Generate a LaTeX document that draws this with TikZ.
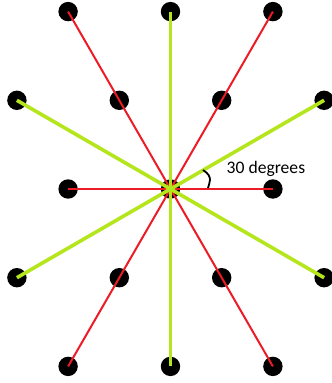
\documentclass[tikz,border=0pt]{standalone}
\usepackage{fontspec}
\setmainfont{Carlito}
\usetikzlibrary{calc}
\definecolor{pred}{HTML}{ED1C24}
\definecolor{plime}{HTML}{B5E61D}
\tikzset{
  dot/.style={circle, fill=black, inner sep=0pt, minimum size=19.4pt},
  redline/.style={draw=pred, line width=2pt},
  greenline/.style={draw=plime, line width=3.6pt},
  lbl/.style={font=\fontsize{17.6}{20}\selectfont, inner sep=0pt, anchor=base west}
}
\begin{document}
\begin{tikzpicture}[x=1pt,y=-1pt]
\useasboundingbox (0,0) rectangle (332,383);
\def\ax{51.2}
\def\hy{88.7}
\coordinate (O) at (170.5,189);
% dots
\node[dot] (c) at (O) {};
\node[dot] (t1) at ($(O)+(-2*\ax,-2*\hy)$) {};
\node[dot] (t2) at ($(O)+(0,-2*\hy)$) {};
\node[dot] (t3) at ($(O)+(2*\ax,-2*\hy)$) {};
\node[dot] (u1) at ($(O)+(-3*\ax,-\hy)$) {};
\node[dot] (u2) at ($(O)+(-\ax,-\hy)$) {};
\node[dot] (u3) at ($(O)+(\ax,-\hy)$) {};
\node[dot] (u4) at ($(O)+(3*\ax,-\hy)$) {};
\node[dot] (m1) at ($(O)+(-2*\ax,0)$) {};
\node[dot] (m2) at ($(O)+(2*\ax,0)$) {};
\node[dot] (l1) at ($(O)+(-3*\ax,\hy)$) {};
\node[dot] (l2) at ($(O)+(-\ax,\hy)$) {};
\node[dot] (l3) at ($(O)+(\ax,\hy)$) {};
\node[dot] (l4) at ($(O)+(3*\ax,\hy)$) {};
\node[dot] (b1) at ($(O)+(-2*\ax,2*\hy)$) {};
\node[dot] (b2) at ($(O)+(0,2*\hy)$) {};
\node[dot] (b3) at ($(O)+(2*\ax,2*\hy)$) {};
% red lines
\foreach \e in {t1,t3,m1,m2,b1,b3}
  \draw[redline] (c.center) -- (\e.center);
% green lines
\foreach \e in {t2,b2,u1,u4,l1,l4}
  \draw[greenline] (c.center) -- (\e.center);
% angle mark
\draw[black, line width=1.8pt] (203,170) .. controls (214,177) and (209,183) .. (208,188);
\node[lbl] (txt) at (226.5,173) {30 degrees};
\end{tikzpicture}
\end{document}
